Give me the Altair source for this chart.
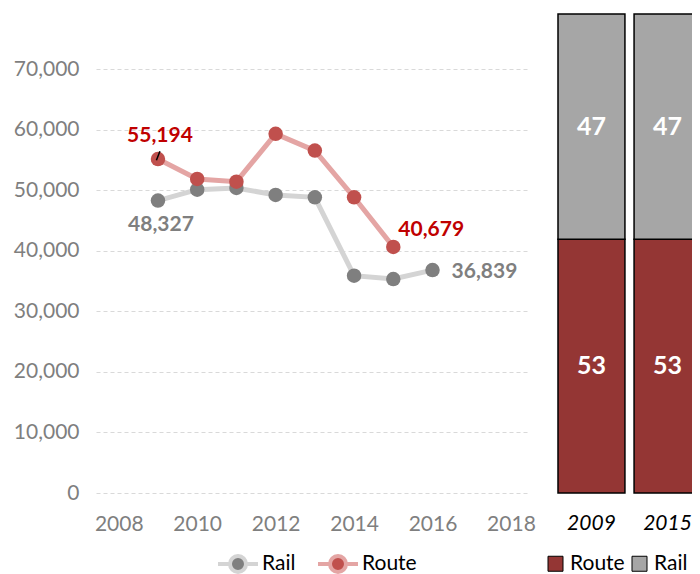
import altair as alt
import pandas as pd

# ---- data ----
rail_years = [2009, 2010, 2011, 2012, 2013, 2014, 2015, 2016]
rail_values = [48327, 50140, 50420, 49260, 48870, 35910, 35360, 36839]
route_years = [2009, 2010, 2011, 2012, 2013, 2014, 2015]
route_values = [55194, 51910, 51460, 59360, 56590, 48870, 40679]

series_names = ["Rail", "Route"]
line_colors = ["#D4D4D4", "#E4A5A4"]
point_colors = ["#7F7F7F", "#C0504D"]

label_series = ["Route", "Rail", "Route", "Rail"]
label_years = [2009, 2009, 2015, 2016]
label_values = [55194, 48327, 40679, 36839]
label_texts = ["55,194", "48,327", "40,679", "36,839"]

leader_x = [2008.96, 2009.05]
leader_y = [55000, 56500]

share_years = ["2009", "2015"]
share_route = [53, 53]
share_rail = [47, 47]
share_names = ["Route", "Rail"]
share_colors = ["#943634", "#A6A6A6"]

FONT = "Lato"

df_rail = pd.DataFrame({"year": rail_years, "value": rail_values, "series": "Rail"})
df_route = pd.DataFrame({"year": route_years, "value": route_values, "series": "Route"})
df_lab = pd.DataFrame({"year": label_years, "value": label_values,
                       "series": label_series, "text": label_texts})
df_leader = pd.DataFrame({"x": [leader_x[0]], "x2": [leader_x[1]],
                          "y": [leader_y[0]], "y2": [leader_y[1]]})

xs = alt.Scale(domain=[2007.42, 2018.46], nice=False, zero=False)
ys = alt.Scale(domain=[0, 79170], nice=False)

x_enc = alt.X("year:Q", scale=xs, axis=alt.Axis(
    title=None, values=[2008, 2010, 2012, 2014, 2016, 2018], format="d",
    grid=False, domain=False, ticks=False, labelFont=FONT, labelFontSize=21,
    labelColor="#7F7F7F", labelPadding=20))
y_enc = alt.Y("value:Q", scale=ys, axis=alt.Axis(
    title=None, values=[0, 10000, 20000, 30000, 40000, 50000, 60000, 70000],
    format=",d", grid=True, gridColor="#D9D9D9", gridDash=[4, 3], gridWidth=1,
    domain=False, ticks=False, labelFont=FONT, labelFontSize=21,
    labelColor="#7F7F7F", labelPadding=17))

stroke_scale = alt.Scale(domain=series_names, range=line_colors)
fill_scale = alt.Scale(domain=series_names, range=point_colors)

legend_line = alt.Legend(
    title=None, orient="none", direction="horizontal", legendX=120, legendY=528,
    symbolType="M-1,0L-0.42,0M0.42,0L1,0M0.4,0A0.4,0.4,0,1,1,-0.4,0A0.4,0.4,0,1,1,0.4,0Z",
    symbolSize=1600, symbolStrokeWidth=4, labelFont=FONT, labelFontSize=21,
    labelColor="black", columnPadding=14, labelOffset=2)


def line_layer(df):
    return alt.Chart(df).mark_line(strokeWidth=5).encode(
        x=x_enc, y=y_enc,
        stroke=alt.Stroke("series:N", scale=stroke_scale, legend=legend_line))


def point_layer(df):
    return alt.Chart(df).mark_point(filled=True, size=210, opacity=1).encode(
        x=x_enc, y=y_enc,
        fill=alt.Fill("series:N", scale=fill_scale, legend=legend_line))


def text_layer(i, align, dx, dy, color):
    return alt.Chart(df_lab.iloc[[i]]).mark_text(
        font=FONT, fontSize=21, fontWeight="bold", align=align, dx=dx, dy=dy,
        color=color).encode(x=x_enc, y=y_enc, text="text:N")


leader = alt.Chart(df_leader).mark_rule(color="black", strokeWidth=1.5).encode(
    x=alt.X("x:Q", scale=xs), x2="x2:Q", y=alt.Y("y:Q", scale=ys), y2="y2:Q")

line_chart = alt.layer(
    line_layer(df_rail), point_layer(df_rail),
    line_layer(df_route), point_layer(df_route),
    leader,
    text_layer(0, "center", 2, -23, "#C00000"),
    text_layer(1, "center", 3, 24, "#7F7F7F"),
    text_layer(2, "left", 5, -17, "#C00000"),
    text_layer(3, "left", 19, 2, "#7F7F7F"),
).properties(width=433, height=479)

# ---- bar panel ----
df_bar = pd.DataFrame({
    "year": share_years * 2,
    "series": ["Route"] * len(share_years) + ["Rail"] * len(share_years),
    "share": share_route + share_rail,
    "order": [0] * len(share_years) + [1] * len(share_years),
})

bx = alt.X("year:N", scale=alt.Scale(paddingInner=0.12, paddingOuter=0),
           axis=alt.Axis(title=None, labelAngle=0, domain=False, ticks=False,
                         labelFont=FONT, labelFontSize=21, labelFontStyle="italic",
                         labelColor="black", labelPadding=19))
bys = alt.Scale(domain=[0, 100], nice=False)

bars = alt.Chart(df_bar).mark_bar(stroke="black", strokeWidth=1.5).encode(
    x=bx,
    y=alt.Y("share:Q", stack="zero", scale=bys, axis=None),
    color=alt.Color("series:N", scale=alt.Scale(domain=share_names, range=share_colors),
                    legend=alt.Legend(title=None, orient="none", direction="horizontal",
                                      legendX=449, legendY=539, symbolType="square",
                                      symbolSize=225, symbolStrokeColor="black",
                                      symbolStrokeWidth=1, labelFont=FONT,
                                      labelFontSize=21, labelColor="black",
                                      columnPadding=4, labelOffset=4)),
    order=alt.Order("order:Q"),
)

bar_text = alt.Chart(df_bar).transform_stack(
    stack="share", groupby=["year"], as_=["y0", "y1"],
    sort=[alt.SortField("order", order="ascending")]
).transform_calculate(mid="(datum.y0 + datum.y1) / 2").mark_text(
    font=FONT, fontSize=25, fontWeight="bold", color="white"
).encode(x=bx, y=alt.Y("mid:Q", scale=bys, axis=None), text="share:Q")

bar_chart = alt.layer(bars, bar_text).properties(width=143, height=479)

chart = alt.hconcat(
    line_chart, bar_chart, spacing=29, bounds="flush"
).properties(
    padding={"left": 5, "top": 5, "right": -10, "bottom": 0},
    background="white",
).configure_view(stroke="transparent", strokeWidth=0)

chart.save("out.html", embed_options={"renderer": "svg", "actions": False})
